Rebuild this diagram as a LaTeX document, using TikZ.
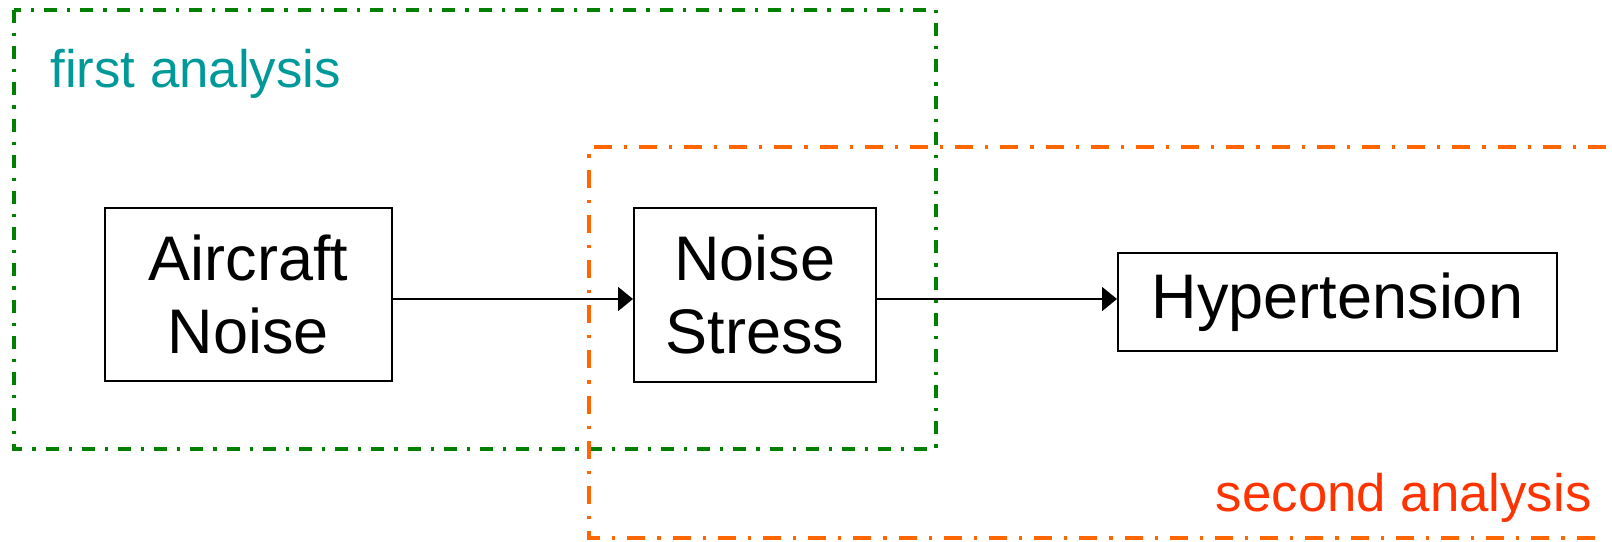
\documentclass[tikz,border=0pt]{standalone}
\usepackage{fontspec}
\setmainfont{Liberation Sans}
\usetikzlibrary{arrows.meta}
\definecolor{groupgreen}{RGB}{0,128,0}
\definecolor{grouporange}{RGB}{255,102,0}
\definecolor{labelteal}{RGB}{0,153,153}
\definecolor{labelred}{RGB}{255,51,0}
\begin{document}
\begin{tikzpicture}[x=0.5pt,y=-0.5pt,
  factor/.style={draw=black,line width=1pt,fill=white,inner sep=0pt,align=center,
    font=\fontsize{31.5}{36.5}\selectfont},
  link/.style={line width=0.9pt,-{Triangle[length=7.5pt,width=12pt]}},
  greengroup/.style={draw=groupgreen,line width=1.8pt,
    dash pattern=on 6.5pt off 5pt on 1.6pt off 5pt},
  orangegroup/.style={draw=grouporange,line width=1.8pt,
    dash pattern=on 9pt off 6pt on 1.6pt off 6pt},
  grouplabel/.style={inner sep=0pt,font=\fontsize{26.4}{30}\selectfont}]
\useasboundingbox (0,0) rectangle (1612,541);

% analysis groupings
\draw[greengroup] (14,10) rectangle (936,449);
\draw[orangegroup] (1606,147) -- (589,147) -- (589,538) -- (1606,538);

% causal chain
\node[factor,minimum width=143.5pt,minimum height=86.5pt] (air) at (248.5,294.5) {Aircraft\\Noise};
\node[factor,minimum width=121pt,minimum height=87pt] (stress) at (755,294.5) {Noise\\Stress};
\node[factor,minimum width=219.5pt,minimum height=49pt] (hyper) at (1337.5,302) {Hypertension};

\coordinate (row) at (0,299);
\draw[link] (air.east |- row) -- (stress.west |- row);
\draw[link] (stress.east |- row) -- (hyper.west |- row);

% group labels
\node[grouplabel,text=labelteal,anchor=base west] (firstlbl) at (50,87) {first analysis};
\node[grouplabel,text=labelred,anchor=base east] (secondlbl) at (1592,511) {second analysis};
\end{tikzpicture}
\end{document}
